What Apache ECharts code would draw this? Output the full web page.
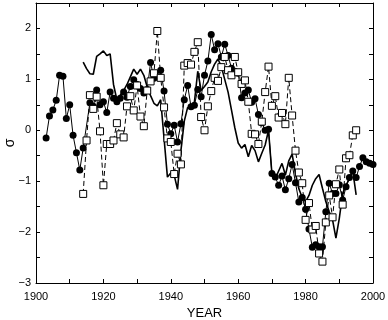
<!DOCTYPE html>
<html><head><meta charset="utf-8">
<script src="https://cdn.jsdelivr.net/npm/echarts@6/dist/echarts.min.js"></script>
<style>html,body{margin:0;padding:0;background:#fff}#c{width:388px;height:320px}</style>
</head><body><div id="c"></div>
<script>
// filled circles, annual 1903-2000 (null = hidden point)
const circleYears = [1903,1904,1905,1906,1907,1908,1909,1910,1911,1912,1913,1914,1915,1916,1917,1918,1919,1920,1921,1922,1923,1924,1925,1926,1927,1928,1929,1930,1931,1932,1933,1934,1935,1936,1937,1938,1939,1940,1941,1942,1943,1944,1945,1946,1947,1948,1949,1950,1951,1952,1953,1954,1955,1956,1957,1958,1959,1960,1961,1962,1963,1964,1965,1966,1967,1968,1969,1970,1971,1972,1973,1974,1975,1976,1977,1978,1979,1980,1981,1982,1983,1984,1985,1986,1987,1988,1989,1990,1991,1992,1993,1994,1995,1996,1997,1998,1999,2000];
const circleValues = [-0.15,0.28,0.40,0.59,1.08,1.06,0.23,0.50,-0.10,-0.44,-0.78,-0.35,null,0.54,0.47,0.79,0.50,0.56,0.35,0.75,0.63,0.56,0.63,0.75,0.65,0.86,0.99,0.90,0.82,0.73,0.80,1.33,1.02,1.05,1.18,0.77,0.12,-0.07,0.10,-0.23,0.13,0.60,0.88,0.46,0.49,0.80,0.66,1.08,1.36,1.88,1.58,1.70,1.44,1.69,1.47,1.22,1.16,1.12,0.64,0.73,0.79,0.55,0.62,0.31,0.15,0.00,0.02,-0.85,-0.92,-1.08,-0.90,-1.17,-0.95,-0.67,-1.03,-1.41,-1.32,-1.55,-1.94,-2.30,-2.25,-2.29,-2.29,-1.60,-1.04,-1.24,-1.24,-1.07,-1.37,-1.11,-0.93,-0.80,-0.93,-0.71,-0.54,-0.62,-0.65,-0.67];

// open squares, 1914-1995
const squareYears = [1914,1915,1916,1917,1918,1919,1920,1921,1922,1923,1924,1925,1926,1927,1928,1929,1930,1931,1932,1933,1934,1935,1936,1937,1938,1939,1940,1941,1942,1943,1944,1945,1946,1947,1948,1949,1950,1951,1952,1953,1954,1955,1956,1957,1958,1959,1960,1961,1962,1963,1964,1965,1966,1967,1968,1969,1970,1971,1972,1973,1974,1975,1976,1977,1978,1979,1980,1981,1982,1983,1984,1985,1986,1987,1988,1989,1990,1991,1992,1993,1994,1995];
const squareValues = [-1.25,-0.20,0.69,0.42,0.66,-0.02,-1.08,-0.27,-0.27,-0.20,0.14,-0.08,-0.14,0.47,0.67,0.39,0.88,0.27,0.08,0.78,0.96,1.12,1.95,1.03,0.45,-0.16,-0.23,-0.86,-0.46,-0.67,1.27,1.32,1.29,1.54,1.73,0.26,0.00,0.47,0.77,1.03,0.97,1.24,1.44,1.18,1.08,1.44,1.14,0.91,0.98,0.56,-0.07,-0.08,-0.27,0.17,0.75,1.25,0.48,0.67,0.25,0.34,0.12,1.03,0.29,-0.40,-0.83,-1.04,-1.76,-1.43,-1.95,-1.88,-2.42,-2.58,-1.81,-1.28,-1.71,-1.06,-0.77,-1.46,-0.55,-0.49,-0.10,0.00];

// solid line, 1914-1995
const lineYears = squareYears;
const lineValues = [1.34,1.21,1.11,1.10,1.45,1.50,1.56,1.47,1.50,0.90,0.60,0.69,0.78,0.90,1.05,1.20,1.10,1.20,1.08,0.85,0.68,0.53,0.48,0.60,-0.16,-0.92,-0.84,-0.88,-1.16,-0.40,0.18,0.45,0.42,0.55,1.16,0.78,0.86,0.95,1.15,1.30,1.40,1.25,1.00,0.75,0.40,0.05,-0.25,-0.35,-0.28,-0.52,-0.30,-0.40,-0.62,-0.45,-0.29,0.00,-0.85,-0.95,-0.80,-0.65,-0.88,-0.60,-0.47,-0.85,-1.15,-1.32,-1.40,-1.28,-1.08,-0.95,-0.87,-1.14,-1.40,-1.60,-1.76,-2.12,-1.73,-1.24,-1.08,-0.95,-0.80,-1.27];

const xTickLabels = [1900,1920,1940,1960,1980,2000];
const yTickLabels = [-3,-2,-1,0,1,2];

const pairs = (xs, ys) => xs.map((x, i) => [x, ys[i]]);
const FONT = 'Liberation Sans';

const chart = echarts.init(document.getElementById('c'), null, {renderer: 'canvas'});
const axisCommon = () => ({
  axisLine: {show: true, onZero: false, lineStyle: {color: '#000', width: 1}},
  axisTick: {show: true, inside: true, length: 4, lineStyle: {color: '#000', width: 1}},
  splitLine: {show: false}
});
chart.setOption({
  animation: false,
  backgroundColor: '#fff',
  grid: {left: 36, right: 15, top: 3, bottom: 37, containLabel: false, outerBoundsMode: 'none'},
  xAxis: [
    Object.assign({
      type: 'value', min: 1900, max: 2000, interval: 10, position: 'bottom',
      axisLabel: {
        color: '#000', fontSize: 11, fontFamily: FONT, margin: 8,
        showMinLabel: true, showMaxLabel: true,
        formatter: v => xTickLabels.includes(v) ? String(v) : ''
      },
      name: 'YEAR', nameLocation: 'middle', nameGap: 23,
      nameTextStyle: {color: '#000', fontSize: 13, fontFamily: FONT}
    }, axisCommon()),
    Object.assign({
      type: 'value', min: 1900, max: 2000, interval: 10, position: 'top',
      axisLabel: {show: false}
    }, axisCommon())
  ],
  yAxis: [
    Object.assign({
      type: 'value', min: -3, max: 2.5, interval: 0.5, position: 'left',
      axisLabel: {
        color: '#000', fontSize: 11, fontFamily: FONT, margin: 5,
        showMinLabel: true, showMaxLabel: true,
        formatter: v => yTickLabels.includes(v) ? (v < 0 ? '\u2212' + Math.abs(v) : String(v)) : ''
      },
      name: 'σ', nameLocation: 'middle', nameGap: 19, nameMoveOverlap: false,
      nameTextStyle: {color: '#000', fontSize: 14, fontFamily: FONT}
    }, axisCommon()),
    Object.assign({
      type: 'value', min: -3, max: 2.5, interval: 0.5, position: 'right',
      axisLabel: {show: false}
    }, axisCommon())
  ],
  series: [
    {
      type: 'line', xAxisIndex: 0, yAxisIndex: 0, data: pairs(lineYears, lineValues),
      showSymbol: false, symbol: 'none', lineStyle: {color: '#000', width: 1.6}, z: 2
    },
    {
      type: 'line', xAxisIndex: 0, yAxisIndex: 0, data: pairs(circleYears, circleValues),
      connectNulls: true, symbol: 'circle', symbolSize: 7, showSymbol: true,
      itemStyle: {color: '#000', borderColor: '#000', borderWidth: 0},
      lineStyle: {color: '#000', width: 1}, z: 3
    },
    {
      type: 'line', xAxisIndex: 0, yAxisIndex: 0, data: pairs(squareYears, squareValues),
      symbol: 'rect', symbolSize: 7, showSymbol: true,
      itemStyle: {color: '#fff', borderColor: '#000', borderWidth: 1},
      lineStyle: {color: '#000', width: 1, type: [5, 3]}, z: 4
    }
  ]
});
</script></body></html>
